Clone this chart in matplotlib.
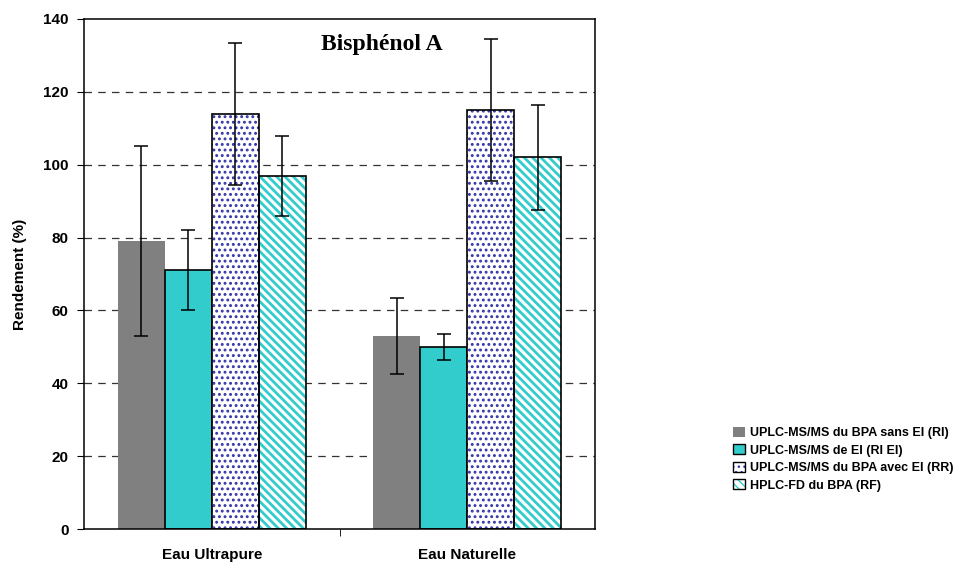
import numpy as np
import matplotlib.pyplot as plt
from matplotlib.patches import Patch

categories = ["Eau Ultrapure", "Eau Naturelle"]
series = ["UPLC-MS/MS du BPA sans EI (RI)", "UPLC-MS/MS de EI (RI EI)",
          "UPLC-MS/MS du BPA avec EI (RR)", "HPLC-FD du BPA (RF)"]
values = [[79, 53], [71, 50], [114, 115], [97, 102]]
errors = [[26, 10.5], [11, 3.5], [19.5, 19.5], [11, 14.5]]
y_ticks = [0, 20, 40, 60, 80, 100, 120, 140]

plt.rcParams['font.family'] = ['Liberation Sans', 'DejaVu Sans']

# style per series: (facecolor, hatch, hatch colour, outline, hatch linewidth)
styles = [("#808080", None, None, "none", 1.0),
          ("#33CCCC", None, None, "black", 1.0),
          ("white", "...", "#3333AA", "black", 1.3),
          ("white", "\\\\\\\\", "#33CCCC", "black", 2.0)]

fig = plt.figure(figsize=(9.55, 5.65), dpi=100)
ax = fig.add_axes([0.088, 0.0637, 0.535, 0.9027])

x = np.arange(len(categories))
width = 0.184
handles = []
for i, (vals, errs) in enumerate(zip(values, errors)):
    fc, hatch, hc, ec, hlw = styles[i]
    pos = x + (i - 1.5) * width
    with plt.rc_context({'hatch.linewidth': hlw}):
        if hatch:
            ax.bar(pos, vals, width, color=fc, hatch=hatch, edgecolor=hc, linewidth=0, zorder=2)
            ax.bar(pos, vals, width, facecolor="none", edgecolor=ec, linewidth=1.2, zorder=3)
            handles.append((Patch(facecolor=fc, hatch=hatch, edgecolor=hc, linewidth=0),
                            Patch(facecolor="none", edgecolor=ec, linewidth=1)))
        else:
            ax.bar(pos, vals, width, color=fc, edgecolor=ec, linewidth=1.2, zorder=2)
            handles.append(Patch(facecolor=fc, edgecolor=ec, linewidth=1))
    ax.errorbar(pos, vals, yerr=errs, fmt="none", ecolor="black", elinewidth=1.1,
                capsize=5, capthick=1.1, zorder=4)

ax.set_xlim(-0.5, 1.5)
ax.set_ylim(0, 140)
ax.set_yticks(y_ticks)
ax.set_yticklabels([str(t) for t in y_ticks], fontsize=11, fontweight="bold")
ax.set_xticks(x)
ax.set_xticklabels(categories, fontsize=11, fontweight="bold")
ax.tick_params(axis="x", which="major", length=0, pad=14)
ax.set_xticks([0.5], minor=True)
ax.tick_params(axis="x", which="minor", length=5, direction="out")
ax.tick_params(axis="y", length=5, direction="out", pad=6)
ax.set_ylabel("Rendement (%)", fontsize=11, fontweight="bold", labelpad=12)

for t in y_ticks[1:-1]:
    ax.axhline(t, color="#333333", linestyle=(0, (6, 5)), linewidth=0.9, zorder=1)

for s in ax.spines.values():
    s.set_linewidth(1.1)

ax.text(0.582, 0.949, "Bisphénol A", transform=ax.transAxes, ha="center", va="center",
        fontsize=17, fontweight="bold", family=["Liberation Serif", "DejaVu Serif"])

fig.legend(handles, series, loc="upper left", bbox_to_anchor=(0.768, 0.245),
           frameon=False, prop={"weight": "bold", "size": 9},
           handlelength=0.9, handleheight=0.9, handletextpad=0.45, labelspacing=0.4,
           borderaxespad=0, borderpad=0)

fig.savefig("out.png", dpi=100)
